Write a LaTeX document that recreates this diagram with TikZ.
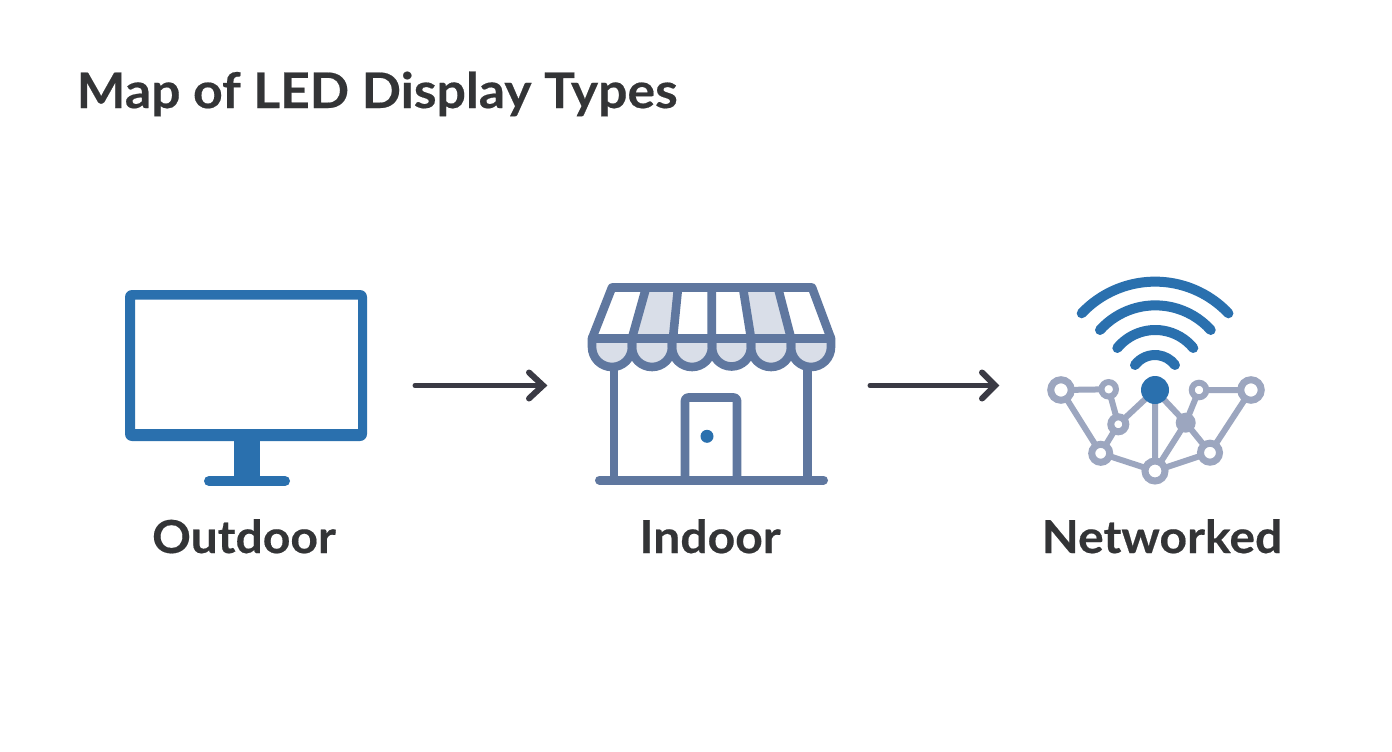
\documentclass[tikz,border=0pt]{standalone}
\usepackage{fontspec}
\setmainfont{Lato}[BoldFeatures={FakeStretch=1.055,FakeBold=0.4}]
\definecolor{ink}{HTML}{333436}
\definecolor{arrowink}{HTML}{3A3A44}
\definecolor{blueA}{HTML}{2A70AE}
\definecolor{slate}{HTML}{5F779F}
\definecolor{awn}{HTML}{D9DEE8}
\definecolor{netg}{HTML}{9CA6BF}
\tikzset{
 px/.style={x=1pt,y=-1pt},
 title/.style={inner sep=0,anchor=base west,text=ink,font=\fontsize{49}{49}\selectfont\bfseries},
 lab/.style={inner sep=0,anchor=base,text=ink,font=\fontsize{45.5}{46}\selectfont\bfseries},
 flow/.style={draw=arrowink,line width=5pt,line cap=round},
 chev/.style={draw=arrowink,line width=6pt,line cap=round,line join=miter},
 shop/.style={draw=slate,line width=8.6pt,line cap=round,line join=round},
 wave/.style={draw=blueA,line width=10pt,line cap=round},
 edge/.style={draw=netg,line width=6pt},
 ring/.style={circle,draw=netg,fill=white,line width=7pt,inner sep=0},
 hub/.style={circle,fill=blueA,inner sep=0,minimum size=28pt},
 solid node/.style={circle,fill=netg,inner sep=0,minimum size=20pt}
}
\begin{document}
\begin{tikzpicture}[px]
\useasboundingbox (0,0) rectangle (1392,752);
\fill[white] (0,0) rectangle (1392,752);
\node[title] (t) at (76.5,108) {Map of LED Display Types};
% monitor
\fill[blueA,even odd rule] [rounded corners=7pt] (125,290) rectangle (367,441) [sharp corners] (135,299.5) rectangle (358,429);
\fill[blueA] (234,438) rectangle (260,480);
\draw[blueA,line width=10pt,line cap=round] (209,481) -- (285,481);
\node[lab] (o) at (244,553) {Outdoor};
% shop
\fill[awn] (646,288) -- (678,288) -- (673,338) -- (632,338) -- cycle;
\fill[awn] (743,288) -- (778,288) -- (791,338) -- (751,338) -- cycle;
\foreach \a/\b in {592/632,632/672,672/712,712/751,751/791,791/831}{
 \fill[awn] (\a,340) -- (\b,340) -- (\b,347) arc[start angle=0,end angle=180,radius={(\b-\a)/2}] -- cycle;
}
\draw[shop] (592,338.5) -- (612,287.5) -- (812,287.5) -- (831,338.5) -- cycle;
\draw[shop] (646,288) -- (632,338) (678,288) -- (673,338) (711.7,288) -- (711.7,338) (743,288) -- (751,338) (778,288) -- (791,338);
\foreach \a/\b in {592/632,632/672,672/712,712/751,751/791,791/831}{
 \draw[shop] (\a,338) -- (\a,347) arc[start angle=180,end angle=0,radius={(\b-\a)/2}] -- (\b,338);
}
\draw[shop] (614,368) -- (614,480) (807.5,368) -- (807.5,480);
\draw[shop,rounded corners=3pt] (685,480) -- (685,397.5) -- (737,397.5) -- (737,480);
\draw[shop,line width=9pt] (599.5,480) -- (823.5,480);
\fill[blueA] (707,436.3) circle (6.5pt);
\node[lab] (i) at (710,553) {Indoor};
% network
\draw[wave] (1081.7,313.3) arc[start angle=223.3,end angle=316.7,radius=100.8];
\draw[wave] (1100,330) arc[start angle=222,end angle=318,radius=74.5];
\draw[wave] (1117.3,348) arc[start angle=219.3,end angle=320.7,radius=49.1];
\draw[wave] (1135,365) arc[start angle=216.9,end angle=323.1,radius=25];
\coordinate (c1) at (1061,390);
\coordinate (c2) at (1108.7,389.3);
\coordinate (c3) at (1118.3,424.3);
\coordinate (c4) at (1100.7,453.3);
\coordinate (c5) at (1155,471);
\coordinate (c6) at (1210,452.7);
\coordinate (c7) at (1185.7,422.7);
\coordinate (c8) at (1199,390);
\coordinate (c9) at (1251,390);
\coordinate (c0) at (1155,390);
\draw[edge] (c1)--(c2) (c1)--(c4) (c2)--(c3) (c3)--(c4) (c3)--(c0) (c0)--(c5) (c0)--(c7) (c7)--(c8) (c8)--(c9) (c9)--(c6) (c7)--(c6) (c7)--(c5) (c4)--(c5) (c5)--(c6);
\node[ring,minimum size=20.5pt] (n1) at (c1) {};
\node[ring,minimum size=14.5pt,line width=6pt] (n2) at (c2) {};
\node[ring,minimum size=15pt] (n3) at (c3) {};
\node[ring,minimum size=18pt] (n4) at (c4) {};
\node[ring,minimum size=20pt] (n5) at (c5) {};
\node[ring,minimum size=19pt] (n6) at (c6) {};
\node[solid node] (n7) at (c7) {};
\node[ring,minimum size=14.5pt,line width=6pt] (n8) at (c8) {};
\node[ring,minimum size=20.5pt] (n9) at (c9) {};
\node[hub] (n0) at (c0) {};
\node[lab] (w) at (1162,553) {Networked};
% arrows
\coordinate (a1s) at (415,385.5);
\coordinate (a1e) at (543,385.5);
\draw[flow] (a1s) -- (a1e);
\draw[chev] (529,372.5) -- (a1e) -- (529,398.5);
\coordinate (a2s) at (870,385.5);
\coordinate (a2e) at (995,385.5);
\draw[flow] (a2s) -- (a2e);
\draw[chev] (982,372.5) -- (a2e) -- (982,398.5);
\end{tikzpicture}
\end{document}
